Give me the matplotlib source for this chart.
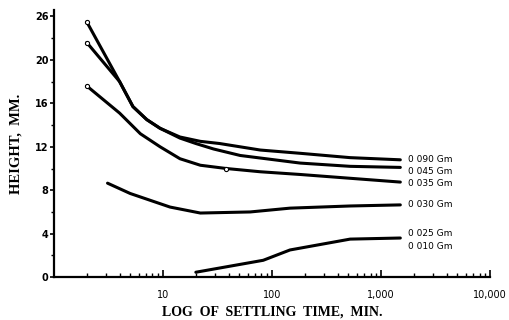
import matplotlib.pyplot as plt
from matplotlib.ticker import FixedLocator, NullFormatter

# Data (settling time in min, height in mm)
t_090 = [2, 4.0, 5.3, 7.1, 9.4, 14.3, 22, 33, 78, 181, 520, 1500]
h_090 = [23.5, 18.0, 15.7, 14.5, 13.7, 12.9, 12.5, 12.3, 11.7, 11.4, 11.0, 10.8]

t_045 = [2, 4.0, 5.3, 7.1, 9.4, 14.3, 20, 29, 51, 181, 520, 1500]
h_045 = [21.6, 18.0, 15.7, 14.5, 13.7, 12.8, 12.3, 11.8, 11.2, 10.5, 10.2, 10.1]

t_035 = [2, 4.0, 6.2, 9.4, 14.3, 22, 38, 78, 181, 520, 1500]
h_035 = [17.6, 15.1, 13.2, 12.0, 10.9, 10.3, 10.0, 9.7, 9.45, 9.1, 8.75]

t_030 = [3.1, 5, 11.6, 22, 63, 146, 520, 1500]
h_030 = [8.65, 7.7, 6.45, 5.9, 6.0, 6.35, 6.55, 6.65]

t_010 = [20, 83, 146, 520, 1500]
h_010 = [0.45, 1.55, 2.5, 3.5, 3.6]

curve_labels = ["0 090 Gm", "0 045 Gm", "0 035 Gm", "0 030 Gm", "0 025 Gm", "0 010 Gm"]
label_heights = [10.8, 9.7, 8.6, 6.7, 4.0, 2.85]

yticks = [0, 4, 8, 12, 16, 20, 24]
ytick_labels = ["0", "4", "8", "12", "16", "20", "26"]
xticks = [10, 100, 1000, 10000]
xtick_labels = ["10", "100", "1,000", "10,000"]

fig = plt.figure(figsize=(5.09, 3.2), dpi=100)
ax = fig.add_axes([0.106, 0.134, 0.857, 0.835])

for t, h in [(t_090, h_090), (t_045, h_045), (t_035, h_035), (t_030, h_030), (t_010, h_010)]:
    ax.plot(t, h, color='black', lw=2.2, solid_capstyle='round', solid_joinstyle='round')

# small open circles at some readings
ax.plot([t_090[0], t_045[0], t_035[0], t_035[6]], [h_090[0], h_045[0], h_035[0], h_035[6]],
        'o', ms=3, mfc='white', mec='black', mew=0.8)

for lab, y in zip(curve_labels, label_heights):
    ax.text(1750, y, lab, fontsize=6.5, va='center', ha='left', family='DejaVu Sans')

ax.set_xscale('log')
ax.set_xlim(1, 10000)
ax.set_ylim(0, 24.6)

ax.set_xticks(xticks)
ax.set_xticklabels(xtick_labels)
ax.xaxis.set_minor_locator(FixedLocator([m * 10 ** e for e in range(0, 4) for m in range(2, 10)]))
ax.xaxis.set_minor_formatter(NullFormatter())
ax.set_yticks(yticks)
ax.set_yticklabels(ytick_labels)
ax.yaxis.set_minor_locator(FixedLocator([2, 6, 10, 14, 18, 22]))

ax.tick_params(axis='x', which='major', direction='in', length=5, width=1.2, labelsize=7, pad=9)
ax.tick_params(axis='x', which='minor', direction='in', length=3, width=1)
ax.tick_params(axis='y', which='major', direction='out', length=3, width=1.2, labelsize=7, pad=1)
ax.tick_params(axis='y', which='minor', direction='out', length=2, width=1)
for lbl in ax.get_yticklabels():
    lbl.set_fontweight('bold')

for s in ['top', 'right']:
    ax.spines[s].set_visible(False)
for s in ['left', 'bottom']:
    ax.spines[s].set_linewidth(1.6)

ax.set_xlabel("LOG  OF  SETTLING  TIME,  MIN.", family='Liberation Serif',
              fontweight='bold', fontsize=10, labelpad=4)
ax.set_ylabel("HEIGHT,  MM.", family='Liberation Serif', fontweight='bold',
              fontsize=10.5, labelpad=9)

fig.savefig('out.png', dpi=100)
